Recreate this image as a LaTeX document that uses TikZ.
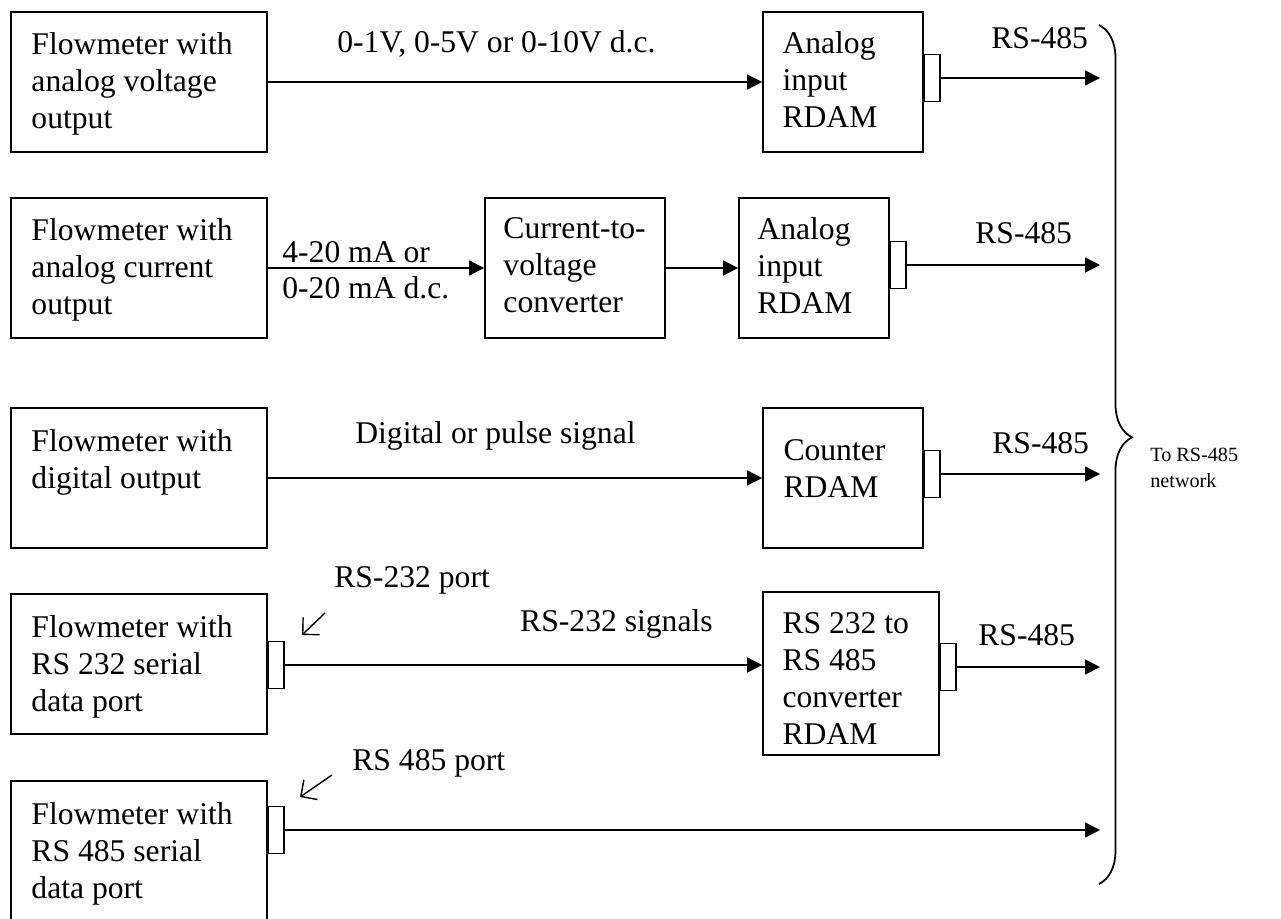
\documentclass[tikz,border=0pt]{standalone}
\usepackage{fontspec}
\setmainfont{Liberation Serif}
\usetikzlibrary{positioning, arrows.meta, decorations.pathreplacing}
\newcommand{\diagfont}{\fontsize{18}{21}\selectfont}
\newcommand{\notefont}{\fontsize{11.5}{15}\selectfont}

\begin{document}
\begin{tikzpicture}[
        x=0.02cm, y=-0.02cm,
        box/.style={rectangle, draw, line width=1pt, inner sep=0pt},
        port/.style={rectangle, draw, line width=1pt, minimum width=0.32cm, minimum height=0.94cm, inner sep=0pt, anchor=west},
        boxtext/.style={anchor=north west, align=left, inner sep=0pt, font=\diagfont},
        lbl/.style={inner sep=0pt, anchor=base west, font=\diagfont},
        arrow/.style={-{Triangle[length=0.3cm, width=0.3cm]}, line width=1pt},
        pointer/.style={-{Straight Barb[length=0.24cm, width=0.48cm]}, line width=0.8pt}
    ]
        \useasboundingbox[fill=white] (0,0) rectangle (1281,919);

        % Flowmeters
        \node[box, minimum width=5.12cm, minimum height=2.8cm] (fmA) at (139,82) {};
        \node[box, minimum width=5.12cm, minimum height=2.8cm] (fmB) at (139,268) {};
        \node[box, minimum width=5.12cm, minimum height=2.8cm] (fmC) at (139,478) {};
        \node[box, minimum width=5.12cm, minimum height=2.8cm] (fmD) at (139,664) {};
        \node[box, minimum width=5.12cm, minimum height=2.88cm] (fmE) at (139,853) {};
        \node[boxtext] (fmAtxt) at ([shift={(21,21)}]fmA.north west) {Flowmeter with\\analog voltage\\output};
        \node[boxtext] (fmBtxt) at ([shift={(21,21)}]fmB.north west) {Flowmeter with\\analog current\\output};
        \node[boxtext] (fmCtxt) at ([shift={(21,22)}]fmC.north west) {Flowmeter with\\digital output};
        \node[boxtext] (fmDtxt) at ([shift={(21,22)}]fmD.north west) {Flowmeter with\\RS 232 serial\\data port};
        \node[boxtext] (fmEtxt) at ([shift={(21,22)}]fmE.north west) {Flowmeter with\\RS 485 serial\\data port};

        % Converters and RDAMs
        \node[box, minimum width=3.2cm, minimum height=2.8cm] (rdA) at (843,82) {};
        \node[box, minimum width=3.6cm, minimum height=2.8cm] (conv) at (575,268) {};
        \node[box, minimum width=3.0cm, minimum height=2.8cm] (rdB) at (814,268) {};
        \node[box, minimum width=3.2cm, minimum height=2.8cm] (rdC) at (843,478) {};
        \node[box, minimum width=3.52cm, minimum height=3.26cm] (rdD) at (851,673.5) {};
        \node[boxtext] (rdAtxt) at ([shift={(20,20)}]rdA.north west) {Analog\\input\\RDAM};
        \node[boxtext] (convtxt) at ([shift={(19,20)}]conv.north west) {Current-to-\\voltage\\converter};
        \node[boxtext] (rdBtxt) at ([shift={(19,20)}]rdB.north west) {Analog\\input\\RDAM};
        \node[boxtext] (rdCtxt) at ([shift={(21,32)}]rdC.north west) {Counter\\RDAM};
        \node[boxtext] (rdDtxt) at ([shift={(20,21)}]rdD.north west) {RS 232 to\\RS 485\\converter\\RDAM};

        % Ports
        \node[port] (portA) at (923,78) {};
        \node[port] (portB) at (889,265) {};
        \node[port] (portC) at (923,474) {};
        \node[port] (portD) at (939,667) {};
        \node[port] (portFmD) at (267,665) {};
        \node[port] (portFmE) at (267,830) {};

        % Signal lines
        \coordinate (net) at (1100,0);
        \draw[arrow] (fmA.east) -- (rdA.west);
        \draw[arrow] (fmB.east) -- (conv.west);
        \draw[arrow] (conv.east) -- (rdB.west);
        \draw[arrow] (fmC.east) -- (rdC.west);
        \draw[arrow] (portFmD.east) -- (portFmD.east -| rdD.west);
        \draw[arrow] (portFmE.east) -- (portFmE.east -| net);
        \draw[arrow] (portA.east) -- (portA.east -| net);
        \draw[arrow] (portB.east) -- (portB.east -| net);
        \draw[arrow] (portC.east) -- (portC.east -| net);
        \draw[arrow] (portD.east) -- (portD.east -| net);

        % Line labels
        \node[lbl] (sigA) at (337,53) {0-1V, 0-5V or 0-10V d.c.};
        \node[lbl] (sigB1) at (282,262) {4-20 mA or};
        \node[lbl] (sigB2) at (282,298) {0-20 mA d.c.};
        \node[lbl] (sigC) at (355,443) {Digital or pulse signal};
        \node[lbl, anchor=base east] (sigD) at (713,631) {RS-232 signals};
        \node[lbl] (rsA) at (991,49) {RS-485};
        \node[lbl] (rsB) at (975,243) {RS-485};
        \node[lbl] (rsC) at (992,453) {RS-485};
        \node[lbl] (rsD) at (978,645) {RS-485};

        % Port pointers
        \node[lbl] (port232) at (334,587) {RS-232 port};
        \node[lbl] (port485) at (352,770) {RS 485 port};
        \coordinate (ptr232a) at (325,613);
        \coordinate (ptr232b) at (302,635);
        \coordinate (ptr485a) at (332,775);
        \coordinate (ptr485b) at (300,797);
        \draw[pointer] (ptr232a) -- (ptr232b);
        \draw[pointer] (ptr485a) -- (ptr485b);

        % Network brace
        \coordinate (braceTop) at (1099,25);
        \coordinate (braceBot) at (1099,884);
        \draw[line width=1pt, decorate, decoration={brace, amplitude=0.66cm, aspect=0.48}] (braceTop) -- (braceBot);
        \node[font=\notefont, align=left, anchor=west, inner sep=0pt] (netlbl) at (1150,468) {To RS-485\\network};
    \end{tikzpicture}
\end{document}
